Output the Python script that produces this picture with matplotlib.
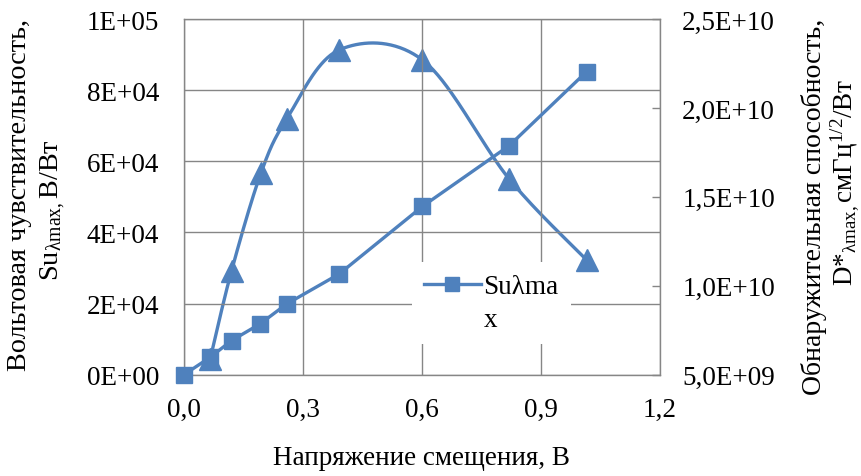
import numpy as np
import matplotlib
matplotlib.use("Agg")
import matplotlib.pyplot as plt
from matplotlib.lines import Line2D
from matplotlib.ticker import FixedLocator

# Bias voltage, V
bias_su = [0.0, 0.066, 0.120, 0.192, 0.259, 0.391, 0.601, 0.820, 1.015]
# Voltage responsivity Su(lambda max), V/W
su_values = [0.0, 4.9e3, 9.6e3, 1.43e4, 1.99e4, 2.83e4, 4.73e4, 6.44e4, 8.52e4]

bias_d = [0.066, 0.120, 0.194, 0.259, 0.391, 0.601, 0.820, 1.015]
# Specific detectivity D*(lambda max), cm Hz^1/2 / W
d_values = [5.88e9, 1.085e10, 1.634e10, 1.938e10, 2.326e10, 2.27e10, 1.60e10, 1.145e10]

x_ticks = [0.0, 0.3, 0.6, 0.9, 1.2]
x_tick_labels = ["0,0", "0,3", "0,6", "0,9", "1,2"]
left_ticks = [0, 2e4, 4e4, 6e4, 8e4, 1e5]
left_tick_labels = ["0E+00", "2E+04", "4E+04", "6E+04", "8E+04", "1E+05"]
right_ticks = [5e9, 1e10, 1.5e10, 2e10, 2.5e10]
right_tick_labels = ["5,0E+09", "1,0E+10", "1,5E+10", "2,0E+10", "2,5E+10"]

legend_lines = ["Suλma", "x"]
x_label = "Напряжение смещения, В"
left_label_1 = "Вольтовая чувствительность,"
left_label_2 = r"Su$_{\mathrm{λmax,}}$В/Вт"
right_label_1 = "Обнаружительная способность,"
right_label_2 = r"D*$_{\mathrm{λmax,}}$смГц$^{\mathrm{1/2}}$/Вт"

BLUE = "#4F81BD"
GRID = "#868686"
FS = 19.5

plt.rcParams["font.family"] = ["Liberation Serif", "DejaVu Serif"]
plt.rcParams["mathtext.fontset"] = "custom"
plt.rcParams["mathtext.rm"] = "Liberation Serif"
plt.rcParams["mathtext.it"] = "Liberation Serif"
plt.rcParams["mathtext.bf"] = "Liberation Serif:bold"

W, H = 862, 477
fig = plt.figure(figsize=(W / 100, H / 100), dpi=100)
x0, x1, y_top, y_bot = 184, 660, 20, 375.7
ax = fig.add_axes([x0 / W, (H - y_bot) / H, (x1 - x0) / W, (y_bot - y_top) / H])

ax.set_xlim(0, 1.2)
ax.set_ylim(0, 1e5)
ax.xaxis.set_major_locator(FixedLocator(x_ticks))
ax.set_xticklabels(x_tick_labels)
ax.yaxis.set_major_locator(FixedLocator(left_ticks))
ax.set_yticklabels(left_tick_labels)
ax.grid(True, color=GRID, linewidth=1.0)
ax.set_axisbelow(True)
ax.tick_params(axis="both", length=0, labelsize=FS)
ax.tick_params(axis="y", pad=18)
ax.tick_params(axis="x", pad=16)
for s in ax.spines.values():
    s.set_color(GRID)
    s.set_linewidth(1.0)

ax2 = ax.twinx()
ax2.set_ylim(5e9, 2.5e10)
ax2.yaxis.set_major_locator(FixedLocator(right_ticks))
ax2.set_yticklabels(right_tick_labels)
ax2.tick_params(axis="y", direction="in", length=6, width=1.0, color=GRID,
                labelsize=FS, pad=16)
for s in ax2.spines.values():
    s.set_visible(False)


def smooth_curve(axis, xs, ys, n=40):
    """Cubic Bezier smoothing (Catmull-Rom style) computed in display space."""
    pts = axis.transData.transform(np.column_stack([xs, ys]))
    p = np.vstack([pts[0], pts, pts[-1]])
    out = []
    for i in range(1, len(p) - 2):
        a = p[i]
        d = p[i + 1]
        b = a + (p[i + 1] - p[i - 1]) / 6.0
        c = d - (p[i + 2] - p[i]) / 6.0
        t = np.linspace(0, 1, n)[:, None]
        seg = ((1 - t) ** 3) * a + 3 * ((1 - t) ** 2) * t * b + 3 * (1 - t) * t ** 2 * c + t ** 3 * d
        out.append(seg if i == 1 else seg[1:])
    curve = np.vstack(out)
    return axis.transData.inverted().transform(curve)


curve = smooth_curve(ax2, bias_d, d_values)
ax2.plot(curve[:, 0], curve[:, 1], color=BLUE, linewidth=2.4, solid_capstyle="round", zorder=3)
ax2.plot(bias_d, d_values, linestyle="none", marker="^", markersize=16.5,
         color=BLUE, zorder=4, clip_on=False)

su_line = ax.plot(bias_su, su_values, color=BLUE, linewidth=2.4, marker="s",
                  markersize=12, clip_on=False, zorder=5)[0]
ax.set_zorder(ax2.get_zorder() + 1)
ax.patch.set_visible(False)

# legend entry wraps onto a second row
legend_handle = Line2D([], [], color=BLUE, linewidth=2.4, marker="s", markersize=10)
blank_handle = Line2D([], [], color="none")
leg = ax.legend(handles=[legend_handle, blank_handle], labels=legend_lines,
                loc="upper left", bbox_to_anchor=(0.478, 0.317),
                borderaxespad=0, frameon=True, fancybox=False, fontsize=FS,
                handlelength=2.1, handletextpad=0.1, borderpad=0.45,
                labelspacing=0.3)
leg.get_frame().set_facecolor("white")
leg.get_frame().set_edgecolor("none")
leg.get_frame().set_alpha(1.0)

fig.text((x0 + x1) / 2 / W, 1 - 459 / H, x_label, ha="center", va="center", fontsize=FS)
fig.text(20 / W, 1 - 195 / H, left_label_1, rotation=90, ha="center", va="center", fontsize=20.3)
fig.text(53 / W, 1 - 210 / H, left_label_2, rotation=90, ha="center", va="center", fontsize=20.3)
fig.text(814 / W, 1 - 207 / H, right_label_1, rotation=90, ha="center", va="center", fontsize=20.0)
fig.text(845 / W, 1 - 182 / H, right_label_2, rotation=90, ha="center", va="center", fontsize=19.5)

fig.savefig("out.png", dpi=100, facecolor="white")
